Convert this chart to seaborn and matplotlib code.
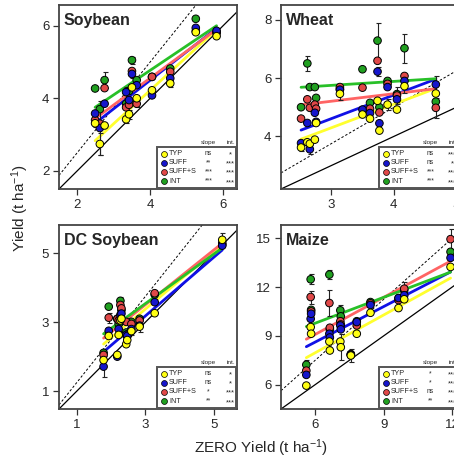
import numpy as np
import pandas as pd
import matplotlib
matplotlib.use("Agg")
import matplotlib.pyplot as plt
from matplotlib.patches import Rectangle
import seaborn as sns

sns.set_style("ticks")
plt.rcParams["font.family"] = ["Liberation Sans", "DejaVu Sans"]
plt.rcParams["mathtext.default"] = "regular"

treatments = ["TYP", "SUFF", "SUFF+S", "INT"]
marker_colors = {"TYP": "#ffff14", "SUFF": "#1616cc", "SUFF+S": "#e04848", "INT": "#20a020"}
line_colors = {"TYP": "#ffff2e", "SUFF": "#1010e6", "SUFF+S": "#ff6464", "INT": "#28c028"}
draw_order = ["INT", "SUFF+S", "SUFF", "TYP"]

# ---------------- Soybean ----------------
soy_zero = [2.49, 2.62, 2.75, 3.34, 3.42, 3.50, 3.63, 4.05, 4.55, 5.25, 5.82]
soy_typ  = [3.31, 2.74, 3.25, 3.42, 3.56, 4.30, 4.00, 4.22, 4.41, 5.82, 5.71]
soy_suff = [3.58, 3.18, 3.85, 4.17, 3.95, 4.67, 4.36, 4.08, 4.55, 5.94, 5.86]
soy_sufs = [3.40, 3.30, 4.28, 3.75, 3.82, 4.75, 3.85, 4.59, 4.73, 5.85, 5.80]
soy_int  = [4.27, 3.70, 4.50, 3.85, 4.20, 5.05, 4.50, 4.59, 4.82, 6.19, 5.82]
soy_err_typ  = [0.10, 0.30, 0.00, 0.10, 0.12, 0.00, 0.00, 0.00, 0.10, 0.00, 0.00]
soy_err_suff = [0.00, 0.75, 0.00, 0.15, 0.00, 0.12, 0.00, 0.00, 0.00, 0.00, 0.00]
soy_err_sufs = [0.00, 0.00, 0.00, 0.00, 0.00, 0.00, 0.10, 0.00, 0.00, 0.00, 0.00]
soy_err_int  = [0.00, 0.00, 0.22, 0.00, 0.00, 0.10, 0.00, 0.00, 0.00, 0.00, 0.00]
soy_slope = [0.920, 0.787, 0.739, 0.675]
soy_icpt  = [0.540, 1.350, 1.600, 2.070]
soy_sig_slope = ["ns", "**", "***", "***"]
soy_sig_int   = ["*", "***", "***", "***"]

# ---------------- Wheat ----------------
wht_zero = [2.52, 2.62, 2.66, 2.74, 2.76, 3.14, 3.50, 3.62, 3.74, 3.77, 3.90, 4.05, 4.17, 4.67]
wht_typ  = [3.62, 3.80, 3.75, 3.89, 4.46, 5.46, 4.75, 4.61, 5.22, 4.20, 5.09, 4.92, 5.72, 5.47]
wht_suff = [3.77, 4.46, 3.56, 4.81, 4.50, 5.60, 4.92, 4.80, 6.22, 4.45, 5.69, 5.27, 5.90, 5.78]
wht_sufs = [4.61, 5.27, 4.98, 5.09, 4.95, 5.69, 5.67, 4.95, 6.59, 4.82, 5.80, 5.40, 6.07, 4.98]
wht_int  = [5.00, 6.50, 5.69, 5.69, 5.32, 5.62, 6.30, 5.15, 7.28, 5.00, 5.90, 5.45, 7.02, 5.19]
wht_err_typ  = [0.12, 0.10, 0.00, 0.00, 0.00, 0.20, 0.00, 0.00, 0.00, 0.00, 0.20, 0.00, 0.25, 0.00]
wht_err_suff = [0.00, 0.00, 0.15, 0.00, 0.00, 0.00, 0.00, 0.00, 0.15, 0.00, 0.00, 0.00, 0.00, 0.30]
wht_err_sufs = [0.00, 0.00, 0.00, 0.20, 0.00, 0.00, 0.00, 0.00, 0.00, 0.00, 0.00, 0.30, 0.00, 0.35]
wht_err_int  = [0.00, 0.25, 0.00, 0.00, 0.00, 0.00, 0.00, 0.00, 0.62, 0.00, 0.00, 0.00, 0.50, 0.00]
wht_slope = [0.808, 0.812, 0.258, 0.136]
wht_icpt  = [1.870, 2.170, 4.430, 5.340]
wht_sig_slope = ["ns", "ns", "***", "***"]
wht_sig_int   = ["***", "*", "***", "***"]

# ---------------- DC Soybean ----------------
dcs_zero = [1.78, 1.93, 2.18, 2.22, 2.27, 2.30, 2.44, 2.47, 2.59, 2.83, 3.27, 5.24]
dcs_typ  = [1.90, 2.60, 2.05, 2.63, 3.05, 3.10, 2.36, 2.48, 2.74, 2.87, 3.26, 5.39]
dcs_suff = [1.71, 2.75, 2.00, 2.80, 3.21, 3.25, 2.63, 2.60, 2.80, 2.90, 3.58, 5.22]
dcs_sufs = [2.05, 3.13, 3.09, 3.05, 3.50, 3.40, 3.01, 2.65, 2.95, 3.05, 3.84, 5.30]
dcs_int  = [2.11, 3.45, 3.10, 2.95, 3.62, 3.35, 2.70, 2.60, 3.01, 3.10, 3.80, 5.25]
dcs_err_typ  = [0.00, 0.00, 0.00, 0.00, 0.00, 0.00, 0.00, 0.00, 0.10, 0.15, 0.00, 0.20]
dcs_err_suff = [0.30, 0.00, 0.00, 0.00, 0.00, 0.00, 0.00, 0.00, 0.00, 0.00, 0.00, 0.00]
dcs_err_sufs = [0.00, 0.15, 0.00, 0.00, 0.00, 0.00, 0.00, 0.00, 0.00, 0.00, 0.00, 0.00]
dcs_err_int  = [0.00, 0.00, 0.00, 0.00, 0.10, 0.00, 0.00, 0.00, 0.00, 0.00, 0.00, 0.00]
dcs_slope = [0.834, 0.854, 0.796, 0.720]
dcs_icpt  = [0.880, 0.620, 1.120, 1.380]
dcs_sig_slope = ["ns", "ns", "*", "**"]
dcs_sig_int   = ["*", "*", "***", "***"]

# ---------------- Maize ----------------
mz_zero = [5.61, 5.80, 5.82, 6.62, 6.64, 7.10, 7.12, 7.56, 7.82, 8.42, 9.65, 9.90, 11.93]
mz_typ  = [5.94, 9.54, 9.13, 8.65, 8.10, 8.65, 8.30, 7.79, 9.13, 10.42, 10.71, 11.25, 13.24]
mz_suff = [6.60, 10.05, 10.36, 9.13, 8.90, 9.64, 9.40, 7.82, 9.85, 10.90, 11.33, 11.50, 13.80]
mz_sufs = [6.86, 11.39, 10.50, 11.02, 9.50, 9.90, 9.70, 7.85, 9.64, 11.00, 11.20, 11.90, 14.95]
mz_int  = [7.22, 12.48, 10.60, 12.77, 9.40, 10.57, 10.20, 7.88, 9.90, 11.08, 11.30, 11.80, 14.17]
mz_err_typ  = [0.00, 0.00, 0.00, 0.60, 0.00, 0.00, 0.80, 0.40, 0.00, 0.00, 0.00, 0.00, 0.00]
mz_err_suff = [0.00, 0.00, 0.00, 0.00, 0.00, 0.00, 0.00, 0.00, 0.00, 0.00, 0.00, 0.00, 0.00]
mz_err_sufs = [0.00, 0.40, 0.00, 0.80, 0.00, 0.00, 0.00, 0.00, 0.00, 0.00, 0.00, 0.00, 0.60]
mz_err_int  = [0.30, 0.30, 0.00, 0.30, 0.00, 0.35, 0.00, 0.00, 0.00, 0.00, 0.00, 0.50, 0.00]
mz_slope = [0.775, 0.728, 0.760, 0.530]
mz_icpt  = [3.310, 4.250, 4.530, 6.600]
mz_sig_slope = ["*", "*", "ns", "**"]
mz_sig_int   = ["***", "***", "***", "***"]

panels = [
    dict(title="Soybean", zero=soy_zero, ys=[soy_typ, soy_suff, soy_sufs, soy_int],
         errs=[soy_err_typ, soy_err_suff, soy_err_sufs, soy_err_int],
         slope=soy_slope, icpt=soy_icpt, sig_s=soy_sig_slope, sig_i=soy_sig_int,
         xlim=(1.5, 6.38), ylim=(1.5, 6.57), xt=[2, 4, 6], yt=[2, 4, 6],
         rect=[59, 5, 178, 184]),
    dict(title="Wheat", zero=wht_zero, ys=[wht_typ, wht_suff, wht_sufs, wht_int],
         errs=[wht_err_typ, wht_err_suff, wht_err_sufs, wht_err_int],
         slope=wht_slope, icpt=wht_icpt, sig_s=wht_sig_slope, sig_i=wht_sig_int,
         xlim=(2.2, 5.04), ylim=(2.2, 8.5), xt=[3, 4, 5], yt=[4, 6, 8],
         rect=[281, 5, 178, 184]),
    dict(title="DC Soybean", zero=dcs_zero, ys=[dcs_typ, dcs_suff, dcs_sufs, dcs_int],
         errs=[dcs_err_typ, dcs_err_suff, dcs_err_sufs, dcs_err_int],
         slope=dcs_slope, icpt=dcs_icpt, sig_s=dcs_sig_slope, sig_i=dcs_sig_int,
         xlim=(0.48, 5.67), ylim=(0.48, 5.82), xt=[1, 3, 5], yt=[1, 3, 5],
         rect=[59, 225, 178, 184]),
    dict(title="Maize", zero=mz_zero, ys=[mz_typ, mz_suff, mz_sufs, mz_int],
         errs=[mz_err_typ, mz_err_suff, mz_err_sufs, mz_err_int],
         slope=mz_slope, icpt=mz_icpt, sig_s=mz_sig_slope, sig_i=mz_sig_int,
         xlim=(4.5, 12.3), ylim=(4.5, 15.82), xt=[6, 9, 12], yt=[6, 9, 12, 15],
         rect=[281, 225, 178, 184]),
]

W, H = 454, 458
fig = plt.figure(figsize=(W / 100, H / 100), dpi=100)


def draw_key(ax, sig_s, sig_i):
    ax.add_patch(Rectangle((0.552, 0.008), 0.443, 0.222, transform=ax.transAxes,
                           facecolor="white", edgecolor="#555555", lw=1.4, zorder=8))
    ax.text(0.84, 0.254, "slope", transform=ax.transAxes, ha="center", va="center",
            fontsize=4.6, zorder=9)
    ax.text(0.965, 0.254, "int.", transform=ax.transAxes, ha="center", va="center",
            fontsize=4.6, zorder=9)
    rows = [0.192, 0.143, 0.093, 0.043]
    for t, yy, ss, si in zip(treatments, rows, sig_s, sig_i):
        ax.scatter([0.59], [yy], transform=ax.transAxes, s=18, color=marker_colors[t],
                   edgecolors="black", linewidths=0.5, zorder=9, clip_on=False)
        ax.text(0.618, yy, t, transform=ax.transAxes, ha="left", va="center",
                fontsize=5.2, zorder=9)
        ax.text(0.84, yy, ss, transform=ax.transAxes, ha="center", va="center",
                fontsize=4.8, zorder=9)
        ax.text(0.965, yy - 0.008, si, transform=ax.transAxes, ha="center", va="center",
                fontsize=5.4, zorder=9)


for p in panels:
    l, t, w, h = p["rect"]
    ax = fig.add_axes([l / W, 1 - (t + h) / H, w / W, h / H])

    frames = []
    for trt, yv, ev in zip(treatments, p["ys"], p["errs"]):
        frames.append(pd.DataFrame({"zero": p["zero"], "yld": yv, "err": ev, "treatment": trt}))
    df = pd.concat(frames, ignore_index=True)
    df["order"] = df["treatment"].map({k: i for i, k in enumerate(draw_order)})
    df = df.sort_values("order", kind="stable")

    lo, hi = p["xlim"][0], max(p["xlim"][1], p["ylim"][1])
    ref = np.array([lo, hi])
    ax.plot(ref, ref, color="black", lw=0.9, zorder=1)
    ax.plot(ref, 1.25 * ref, color="black", lw=0.7, ls=(0, (2.5, 2)), zorder=1)

    # regression lines
    xs = np.array([min(p["zero"]), max(p["zero"])])
    for trt, b, a in zip(treatments, p["slope"], p["icpt"]):
        sns.lineplot(x=xs, y=a + b * xs, color=line_colors[trt], lw=2.0, ax=ax,
                     zorder=2, legend=False)

    eb = df[df["err"] > 0]
    ax.errorbar(eb["zero"], eb["yld"], yerr=eb["err"], fmt="none", ecolor="#222222",
                elinewidth=0.8, capsize=1.8, capthick=0.8, zorder=3)

    sns.scatterplot(data=df, x="zero", y="yld", hue="treatment", palette=marker_colors,
                    s=30, edgecolor="black", linewidth=0.7, legend=False, ax=ax, zorder=4)

    ax.set_xlim(p["xlim"])
    ax.set_ylim(p["ylim"])
    ax.set_xticks(p["xt"])
    ax.set_yticks(p["yt"])
    ax.set_xlabel("")
    ax.set_ylabel("")
    ax.tick_params(direction="out", length=4.5, width=0.9, labelsize=9.5, pad=2.5,
                   color="#333333")
    for s in ax.spines.values():
        s.set_color("#444444")
        s.set_linewidth(1.3)
        s.set_visible(True)

    ax.text(0.028, 0.891, p["title"], transform=ax.transAxes, fontsize=11.5,
            fontweight="bold", va="baseline", ha="left", zorder=10)
    draw_key(ax, p["sig_s"], p["sig_i"])

fig.text(0.575, 0.022, "ZERO Yield (t ha$^{-1}$)", ha="center", va="center", fontsize=11)
fig.text(0.044, 0.545, "Yield (t ha$^{-1}$)", ha="center", va="center", rotation=90,
         fontsize=11)

fig.savefig("out.png", dpi=100)
